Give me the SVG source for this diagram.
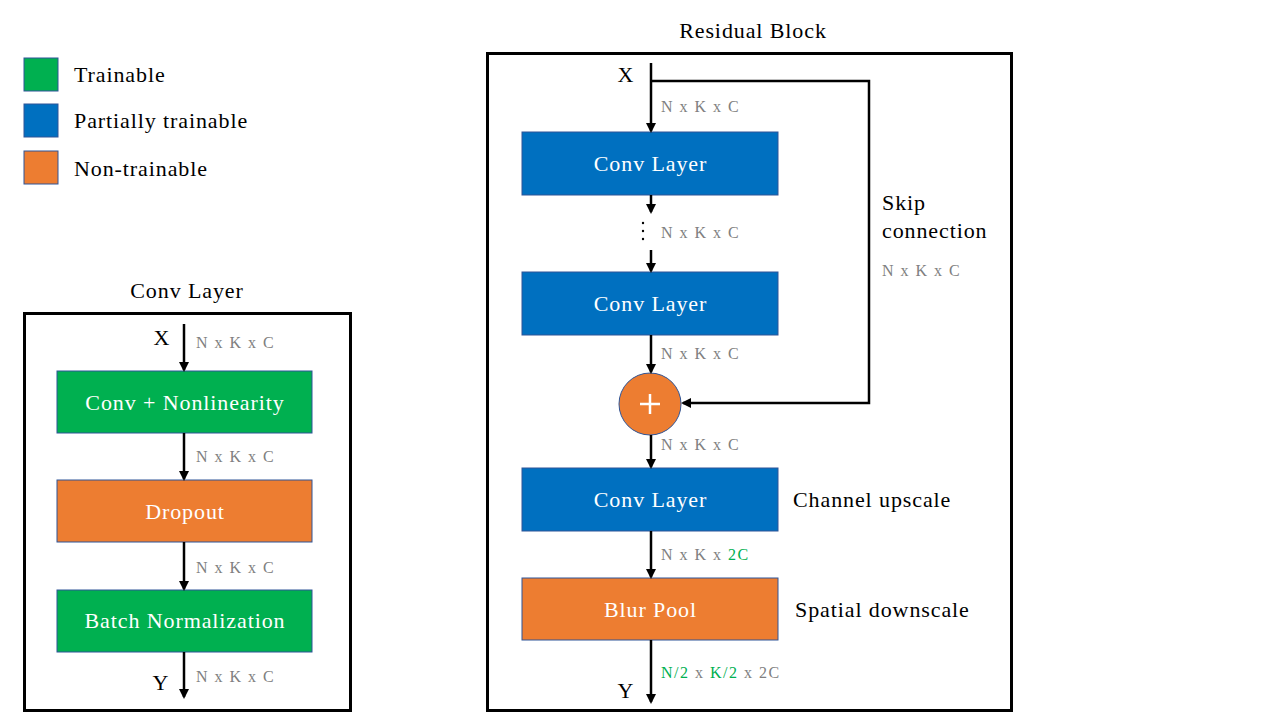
<svg xmlns="http://www.w3.org/2000/svg" width="1280" height="720" viewBox="0 0 1280 720">
<style>
text{font-family:"Liberation Serif","Times New Roman",serif;}
.lbl{font-size:22px;fill:#000;letter-spacing:0.9px;}
.box{stroke:#2F5597;stroke-width:1;}
.g{fill:#00B050;}
.b{fill:#0070C0;}
.o{fill:#ED7D31;}
.nt{font-size:22px;fill:#fff;text-anchor:middle;letter-spacing:0.9px;}
.dim{font-size:16px;fill:#808080;letter-spacing:1.5px;}
.gr{fill:#00B050;}
.frame{fill:none;stroke:#000;stroke-width:3;}
.ar{fill:none;stroke:#000;stroke-width:2.5;}
</style>
<defs>
<marker id="ah" markerWidth="10" markerHeight="10" refX="8" refY="5" orient="auto" markerUnits="userSpaceOnUse">
<path d="M0,0 L10,5 L0,10 Z" fill="#000"/>
</marker>
</defs>
<rect width="1280" height="720" fill="#fff"/>

<g id="legend">
<rect class="box g" x="24" y="58" width="34" height="33"/>
<rect class="box b" x="24" y="104" width="34" height="33"/>
<rect class="box o" x="24" y="151" width="34" height="33"/>
<text class="lbl" x="74" y="82">Trainable</text>
<text class="lbl" x="74" y="128">Partially trainable</text>
<text class="lbl" x="74" y="176">Non-trainable</text>
</g>

<g id="conv-layer-frame">
<text class="lbl" x="187" y="298" text-anchor="middle">Conv Layer</text>
<rect class="frame" x="24.5" y="313.5" width="326" height="397"/>
</g>

<g id="conv-nonlin">
<rect class="box g" x="57" y="371" width="255" height="62"/>
<text class="nt" x="185" y="410">Conv + Nonlinearity</text>
</g>
<g id="dropout">
<rect class="box o" x="57" y="480" width="255" height="62"/>
<text class="nt" x="185" y="519">Dropout</text>
</g>
<g id="batchnorm">
<rect class="box g" x="57" y="590" width="255" height="62"/>
<text class="nt" x="185" y="628">Batch Normalization</text>
</g>

<g id="residual-frame">
<text class="lbl" x="753" y="38" text-anchor="middle">Residual Block</text>
<rect class="frame" x="487.5" y="53.5" width="524" height="657"/>
</g>

<g id="res-conv1">
<rect class="box b" x="522" y="132" width="256" height="63"/>
<text class="nt" x="650.5" y="171">Conv Layer</text>
</g>
<g id="res-conv2">
<rect class="box b" x="522" y="272" width="256" height="63"/>
<text class="nt" x="650.5" y="311">Conv Layer</text>
</g>
<g id="add">
<circle class="box o" cx="650" cy="404" r="31"/>
<path d="M640,404 H660 M650,394 V414" stroke="#fff" stroke-width="2.5"/>
</g>
<g id="res-conv3">
<rect class="box b" x="522" y="468" width="256" height="63"/>
<text class="nt" x="650.5" y="507">Conv Layer</text>
</g>
<g id="blurpool">
<rect class="box o" x="522" y="578" width="256" height="62"/>
<text class="nt" x="650.5" y="617">Blur Pool</text>
</g>

<g id="connectors">
<line class="ar" x1="184" y1="324" x2="184" y2="370" marker-end="url(#ah)"/>
<line class="ar" x1="184" y1="433" x2="184" y2="479" marker-end="url(#ah)"/>
<line class="ar" x1="184" y1="542" x2="184" y2="589" marker-end="url(#ah)"/>
<line class="ar" x1="184" y1="652" x2="184" y2="697" marker-end="url(#ah)"/>

<line class="ar" x1="651" y1="63" x2="651" y2="131" marker-end="url(#ah)"/>
<polyline class="ar" points="651,81 869,81 869,403 683,403" marker-end="url(#ah)"/>
<line class="ar" x1="651" y1="195" x2="651" y2="212" marker-end="url(#ah)"/>
<line class="ar" x1="651" y1="250" x2="651" y2="271" marker-end="url(#ah)"/>
<line class="ar" x1="651" y1="335" x2="651" y2="372" marker-end="url(#ah)"/>
<line class="ar" x1="651" y1="435" x2="651" y2="467" marker-end="url(#ah)"/>
<line class="ar" x1="651" y1="531" x2="651" y2="577" marker-end="url(#ah)"/>
<line class="ar" x1="651" y1="640" x2="651" y2="702" marker-end="url(#ah)"/>
<g fill="#000">
<circle cx="643" cy="223" r="1.2"/>
<circle cx="643" cy="231" r="1.2"/>
<circle cx="643" cy="239" r="1.2"/>
</g>
</g>

<g id="labels">
<text class="lbl" x="162" y="345" text-anchor="middle">X</text>
<text class="lbl" x="161" y="690" text-anchor="middle">Y</text>
<text class="dim" x="196" y="348">N x K x C</text>
<text class="dim" x="196" y="462">N x K x C</text>
<text class="dim" x="196" y="573">N x K x C</text>
<text class="dim" x="196" y="682">N x K x C</text>

<text class="lbl" x="626" y="82" text-anchor="middle">X</text>
<text class="lbl" x="626" y="698" text-anchor="middle">Y</text>
<text class="dim" x="661" y="112">N x K x C</text>
<text class="dim" x="661" y="238">N x K x C</text>
<text class="dim" x="661" y="359">N x K x C</text>
<text class="dim" x="661" y="450">N x K x C</text>
<text class="dim" x="661" y="560">N x K x <tspan class="gr">2C</tspan></text>
<text class="dim" x="661" y="678"><tspan class="gr">N/2</tspan> x <tspan class="gr">K/2</tspan> x 2C</text>
<text class="dim" x="882" y="276">N x K x C</text>
<text class="lbl" x="882" y="210">Skip</text>
<text class="lbl" x="882" y="238">connection</text>
<text class="lbl" x="793" y="507">Channel upscale</text>
<text class="lbl" x="795" y="617">Spatial downscale</text>
</g>
</svg>
